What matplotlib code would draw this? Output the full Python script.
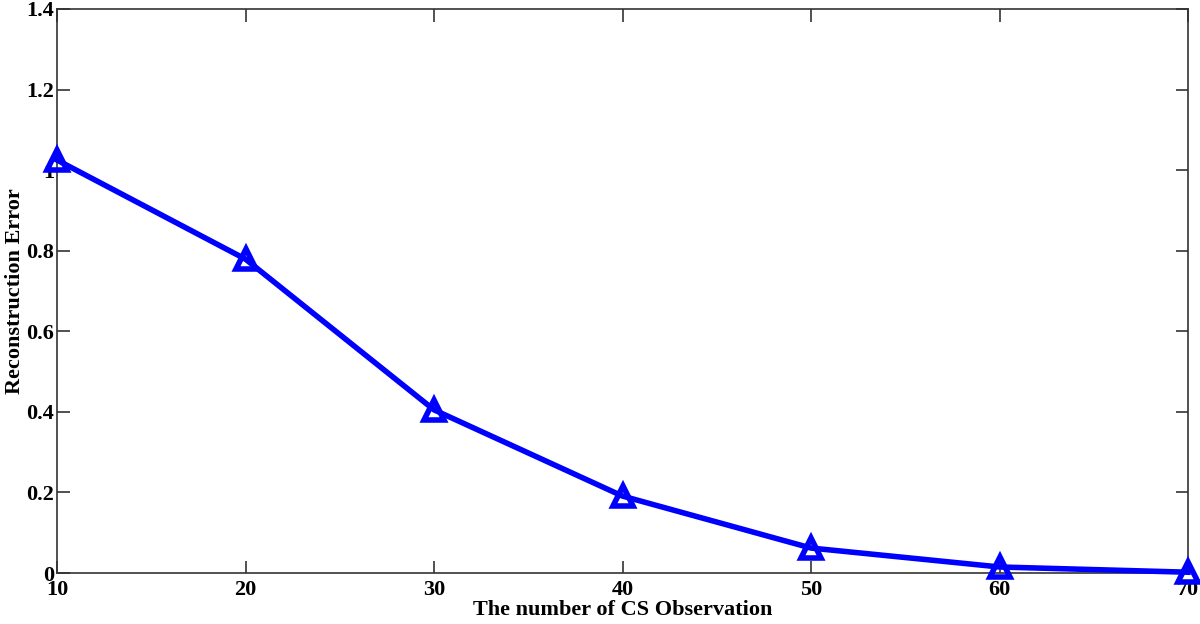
import matplotlib.pyplot as plt

# data
observations = [10, 20, 30, 40, 50, 60, 70]
error = [1.025, 0.779, 0.405, 0.191, 0.062, 0.015, 0.002]
yticks = [0, 0.2, 0.4, 0.6, 0.8, 1, 1.2, 1.4]
yticklabels = ['0', '0.2', '0.4', '0.6', '0.8', '1', '1.2', '1.4']

plt.rcParams['font.family'] = ['Liberation Serif', 'DejaVu Serif']
plt.rcParams['font.weight'] = 'bold'

fig = plt.figure(figsize=(12, 6.24), dpi=100)
ax = fig.add_axes([0.0475, 0.0817, 0.9425, 0.904])

ax.plot(observations, error, color='#0000ff', linewidth=4, marker='^',
        markersize=15, markerfacecolor='none', markeredgecolor='#0000ff',
        markeredgewidth=4, clip_on=False, zorder=3)

ax.set_xlim(10, 70)
ax.set_ylim(0, 1.4)
ax.set_xticks(observations)
ax.set_yticks(yticks)
ax.set_yticklabels(yticklabels)
ax.tick_params(direction='in', length=9, width=1.2, top=True, right=True,
               labelsize=16, pad=2, colors='#333333', labelcolor='black')
ax.tick_params(axis='x', pad=5)
for s in ax.spines.values():
    s.set_linewidth(1.2)
    s.set_color('#333333')

ax.set_xlabel('The number of CS Observation', fontsize=16, fontweight='bold', labelpad=0)
ax.set_ylabel('Reconstruction Error', fontsize=16, fontweight='bold', labelpad=1)

plt.savefig('out.png', dpi=100)
